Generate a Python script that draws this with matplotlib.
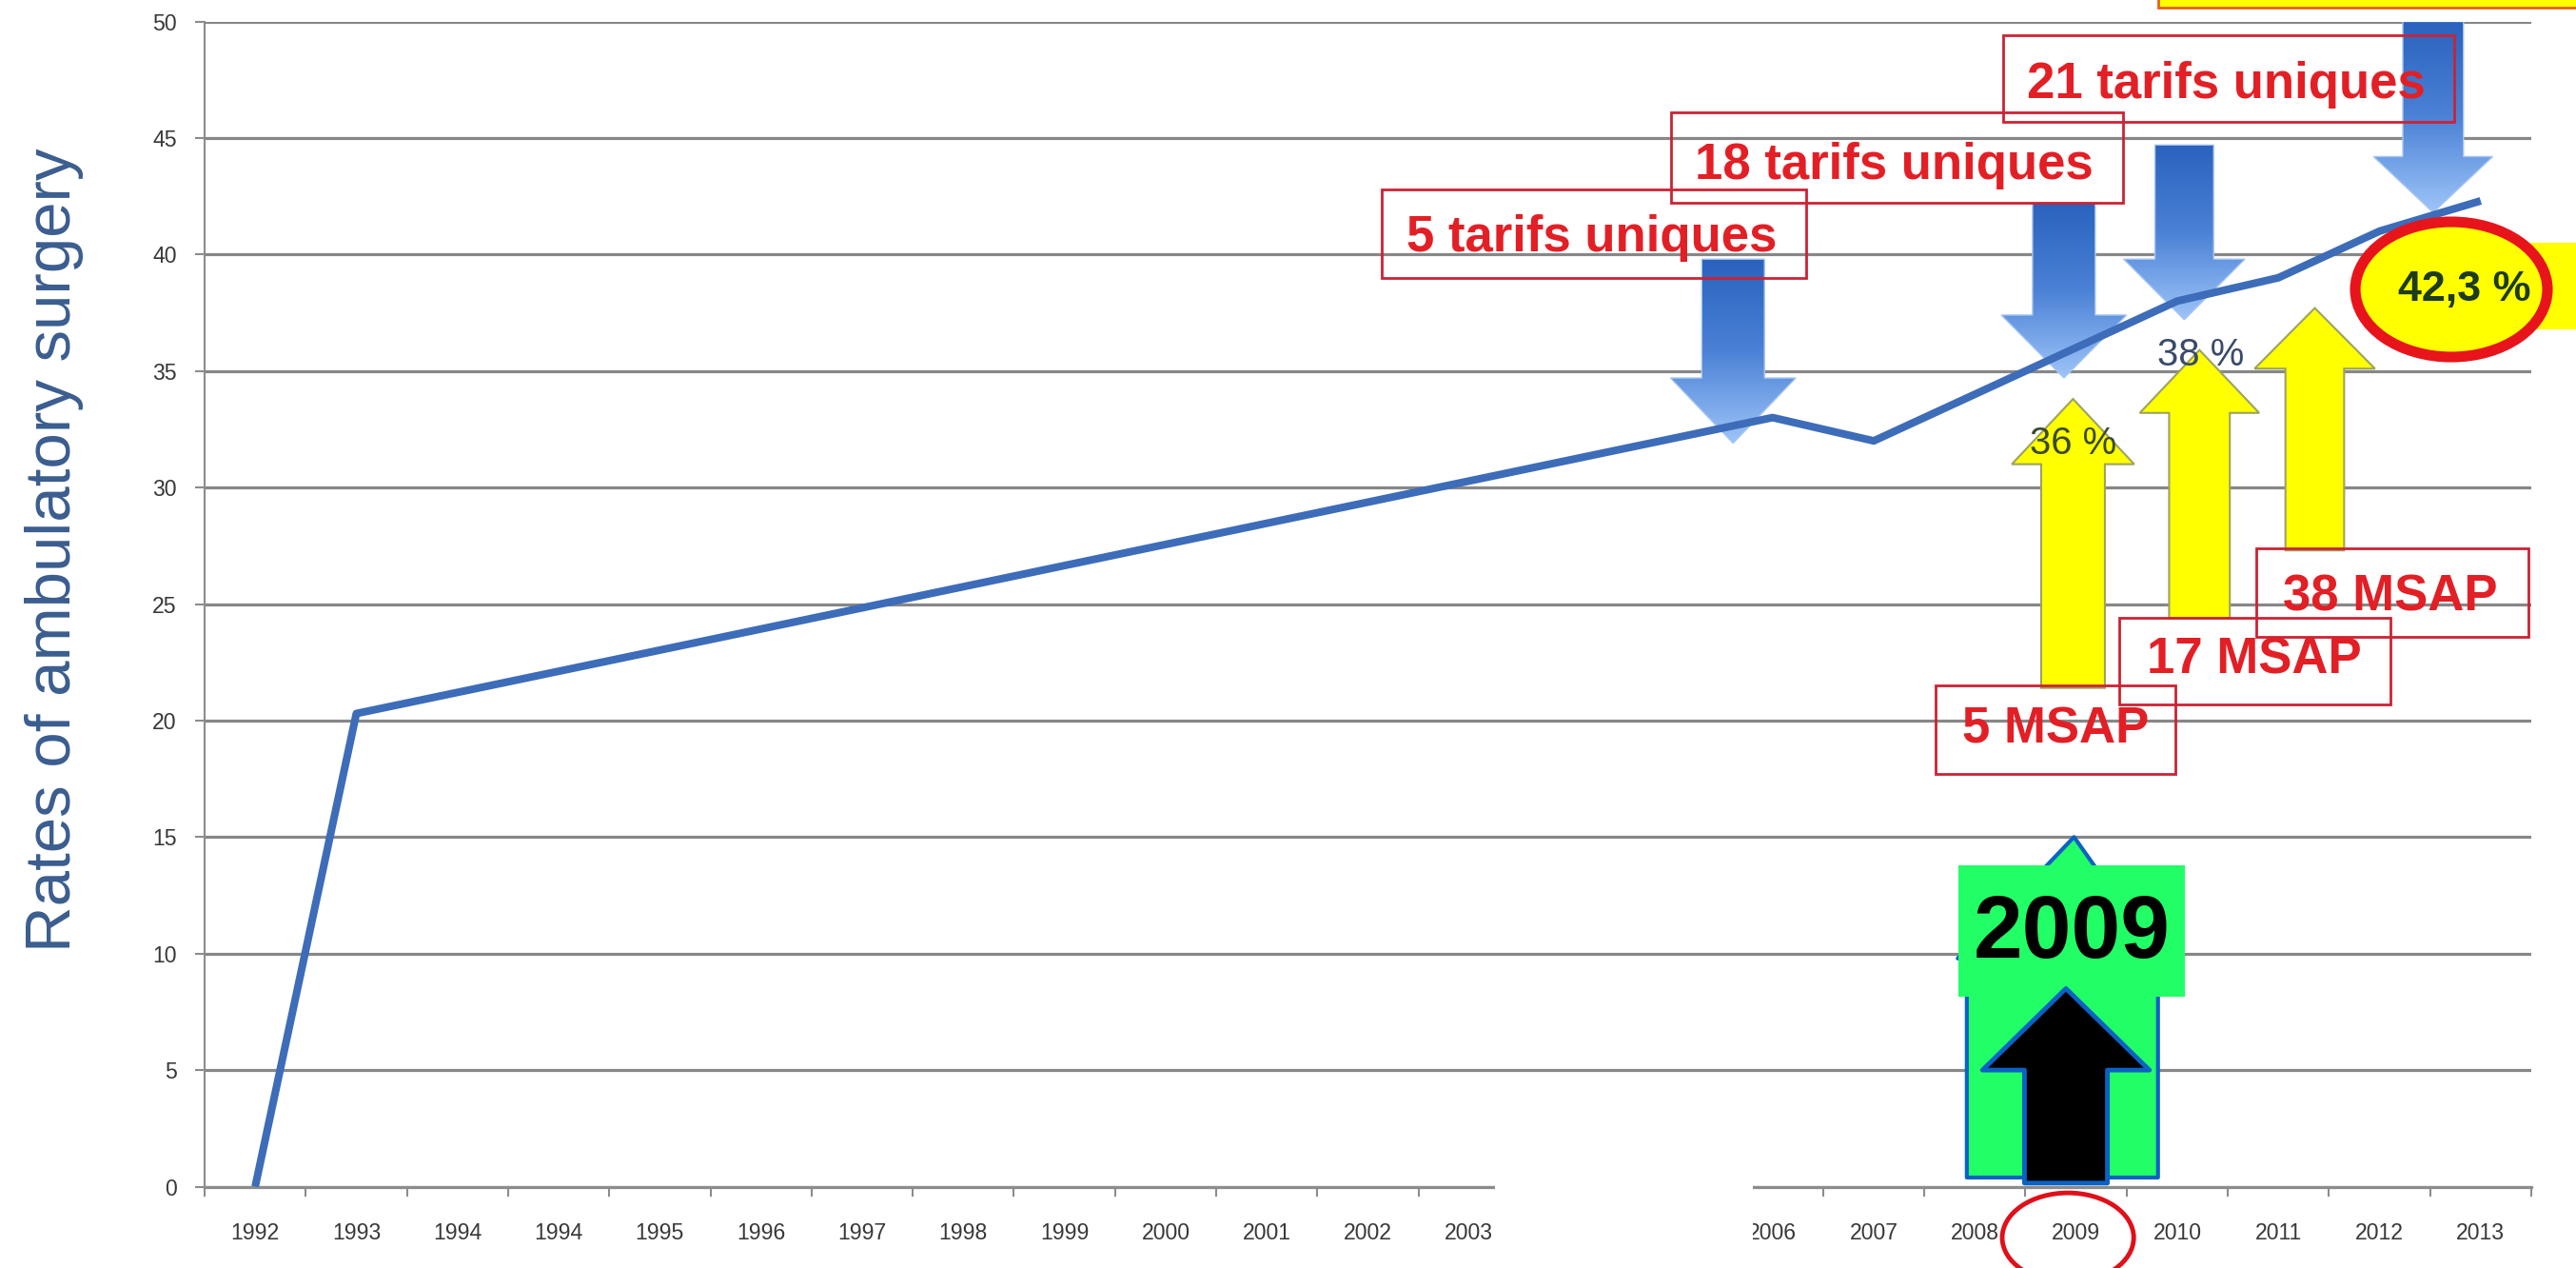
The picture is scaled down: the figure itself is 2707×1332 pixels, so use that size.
import numpy as np
import matplotlib
matplotlib.use("Agg")
import matplotlib.pyplot as plt
from matplotlib import font_manager as fm
from matplotlib.colors import LinearSegmentedColormap
from matplotlib.patches import Polygon, Rectangle, Ellipse

# x categories as printed under the axis (1994 shows up twice in the source)
years = ['1992', '1993', '1994', '1994', '1995', '1996', '1997', '1998', '1999',
         '2000', '2001', '2002', '2003', '2004', '2005', '2006', '2007', '2008',
         '2009', '2010', '2011', '2012', '2013']

# years that carry a point and the rate of ambulatory surgery (%)
point_years = ['1992', '1993', '2006', '2007', '2008', '2009', '2010', '2011', '2012', '2013']
rates = [0, 20.3, 33.0, 32.0, 34.0, 36.0, 38.0, 39.0, 41.0, 42.3]

yticks = [0, 5, 10, 15, 20, 25, 30, 35, 40, 45, 50]

tarif_labels = ['5 tarifs uniques', '18 tarifs uniques', '21 tarifs uniques']
msap_labels = ['5 MSAP', '17 MSAP', '38 MSAP']
pct_labels = ['36 %', '38 %', '42,3 %']
highlight_year = '2009'
ylabel = 'Rates of ambulatory surgery'

# fonts: narrow face for the Calibri-like chart text if we have it
names = {f.name for f in fm.fontManager.ttflist}
if 'Liberation Sans Narrow' in names:
    NARROW, nk = 'Liberation Sans Narrow', 1.0
else:
    NARROW, nk = 'Liberation Sans', 0.85
BOLD = 'Liberation Sans'

fig = plt.figure(figsize=(27.07, 13.32), dpi=100)
ax = fig.add_axes([215 / 2707, 85.5 / 1332, 2445 / 2707, 1224 / 1332])

xpos = [years.index(y) for y in point_years]
ax.plot(xpos, rates, color='#3D6CB9', lw=5.8, solid_joinstyle='round',
        solid_capstyle='butt', zorder=5)

# axes look (Excel style)
ax.set_xlim(-0.5, len(years) - 0.5)
ax.set_ylim(0, 50)
ax.set_yticks(yticks)
ax.grid(axis='y', color='#878787', lw=2.3)
ax.set_axisbelow(True)
for s in ['top', 'right']:
    ax.spines[s].set_visible(False)
ax.spines['left'].set_color('#8c8c8c')
ax.spines['left'].set_linewidth(1.5)
ax.spines['bottom'].set_color('#8c8c8c')
ax.spines['bottom'].set_linewidth(2.3)

ax.set_xticks(range(len(years)))
ax.set_xticklabels(years)
ax.set_xticks(np.arange(-0.5, len(years), 1), minor=True)
ax.tick_params(axis='x', which='major', length=0, pad=27)
ax.tick_params(axis='x', which='minor', length=7, width=1.5, color='#8c8c8c')
ax.tick_params(axis='y', length=7, width=1.5, color='#8c8c8c', pad=14)
for lab in ax.get_xticklabels() + ax.get_yticklabels():
    lab.set_fontfamily(NARROW)
    lab.set_fontsize(19.5 * nk)
    lab.set_color('#383838')

fig.text(57 / 2707, 1 - 578 / 1332, ylabel, rotation=90, ha='center', va='center',
         fontsize=57 * nk, family=NARROW, color='#3A5D8F')


def block_arrow(xc, start, base, tip, sw, hw, **kw):
    verts = [(xc - sw, start), (xc + sw, start), (xc + sw, base), (xc + hw, base),
             (xc, tip), (xc - hw, base), (xc - sw, base)]
    p = Polygon(verts, closed=True, **kw)
    ax.add_patch(p)
    return p


blues = LinearSegmentedColormap.from_list('arrow_blue', ['#2A62BE', '#4B82D6', '#9DC4F8'])


def blue_arrow(xc, start, base, tip, sw, hw):
    p = block_arrow(xc, start, base, tip, sw, hw, facecolor='none',
                    edgecolor='#A9C6EE', lw=1.0, zorder=4)
    im = ax.imshow(np.linspace(0, 1, 200).reshape(-1, 1), cmap=blues, aspect='auto',
                   extent=(xc - hw, xc + hw, tip, start), origin='upper',
                   interpolation='bilinear', zorder=3.5)
    im.set_clip_path(p)


# "tarifs uniques" arrows pointing down at the curve
blue_arrow(14.61, 39.8, 34.7, 31.9, 0.31, 0.62)
blue_arrow(17.88, 42.2, 37.4, 34.7, 0.31, 0.62)
blue_arrow(19.07, 44.7, 39.8, 37.2, 0.29, 0.60)
blue_arrow(21.53, 50.0, 44.2, 41.8, 0.30, 0.59)

# MSAP arrows pointing up
for xc, b, hb, tp, sw, hw in [(17.97, 21.4, 31.0, 33.8, 0.315, 0.605),
                              (19.22, 24.4, 33.2, 35.9, 0.30, 0.59),
                              (20.36, 27.3, 35.1, 37.7, 0.29, 0.595)]:
    block_arrow(xc, b, hb, tp, sw, hw, facecolor='#FFFF00', edgecolor='#9DA35E',
                lw=1.5, zorder=6)

# red labelled boxes
red_txt = '#E31F26'
red_edge = '#CC2233'
tarif_boxes = [(11.14, 15.33, 39.0, 42.8, 13.21, 40.7),
               (14.00, 18.46, 42.2, 46.1, 16.20, 43.8),
               (17.28, 21.74, 45.7, 49.4, 19.48, 47.3)]
msap_boxes = [(16.61, 18.98, 17.7, 21.5, 17.80, 19.6),
              (18.43, 21.11, 20.7, 24.4, 19.76, 22.6),
              (19.78, 22.47, 23.6, 27.4, 21.11, 25.3)]
for lab, (x0, x1, y0, y1, tx, ty) in zip(tarif_labels + msap_labels, tarif_boxes + msap_boxes):
    ax.add_patch(Rectangle((x0, y0), x1 - x0, y1 - y0, fill=False, edgecolor=red_edge,
                           lw=2.0, zorder=7, clip_on=False))
    ax.text(tx, ty, lab, ha='center', va='center', fontsize=38, fontweight='bold',
            family=BOLD, color=red_txt, zorder=8)

# percentage labels
ax.text(17.97, 31.9, pct_labels[0], ha='center', va='center', fontsize=34 * nk,
        family=NARROW, color='#3B4A30', zorder=8)
ax.text(19.23, 35.7, pct_labels[1], ha='center', va='center', fontsize=34 * nk,
        family=NARROW, color='#3A4A6A', zorder=8)
ax.add_patch(Rectangle((21.7, 36.8), 1.9, 3.7, facecolor='#FFFF00', edgecolor='none',
                       zorder=7, clip_on=False))
ax.add_patch(Ellipse((21.71, 38.5), 1.90, 5.8, facecolor='#FFFF00', edgecolor='none',
                     zorder=7.5, clip_on=False))
ax.text(21.84, 38.5, pct_labels[2], ha='center', va='center', fontsize=38 * nk,
        fontweight='bold', family=NARROW, color='#1D3B1D', zorder=8)
ax.add_patch(Ellipse((21.71, 38.5), 1.90, 5.8, fill=False, edgecolor='#E8141B',
                     lw=8, zorder=8.5, clip_on=False))

# highlighted 2009 marker
hx = years.index(highlight_year)
blue_edge = '#0B62C4'
ax.add_patch(Polygon([(16.92, 0.39), (18.81, 0.39), (18.81, 9.79), (18.83, 9.79),
                      (hx - 0.02, 15.0), (16.83, 9.79), (16.92, 9.79)], closed=True,
                     facecolor='#22FF66', edgecolor=blue_edge, lw=3, zorder=9,
                     joinstyle='round'))
ax.add_patch(Rectangle((16.84, 8.15), 2.24, 5.64, facecolor='#22FF66', edgecolor='none',
                       zorder=10))
block_arrow(hx - 0.1, 0.15, 5.0, 8.5, 0.41, 0.825, facecolor='black', edgecolor=blue_edge,
            lw=3.5, zorder=11, clip_on=False, joinstyle='round')
ax.text(hx - 0.04, 10.82, highlight_year, ha='center', va='center', fontsize=67,
        fontweight='bold', family=BOLD, color='black', zorder=12)
ax.add_patch(Ellipse((hx - 0.08, -2.19), 1.30, 3.84, fill=False, edgecolor='#E0101A',
                     lw=3.5, zorder=12, clip_on=False))

# white patch hiding part of the year axis, and the cut-off box at the top
fig.add_artist(Rectangle((1571 / 2707, 0), 271 / 2707, 179 / 1332, transform=fig.transFigure,
                         facecolor='white', edgecolor='none', zorder=20))
fig.add_artist(Rectangle((2268 / 2707, 1 - 8 / 1332), 0.2, 0.02, transform=fig.transFigure,
                         facecolor='#FFFF00', edgecolor='#E8601A', lw=2, zorder=20))

fig.savefig('out.png', dpi=100)
